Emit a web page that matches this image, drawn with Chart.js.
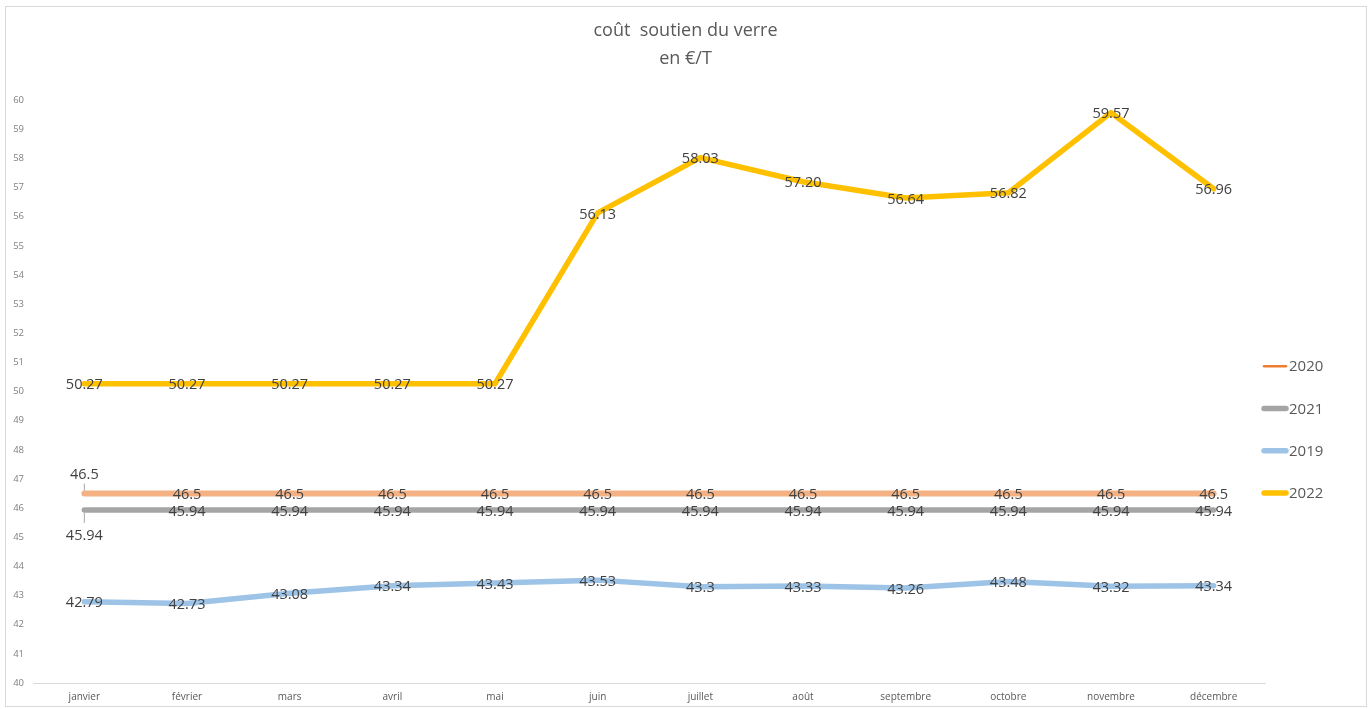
<!DOCTYPE html>
<html>
<head>
<meta charset="utf-8">
<title>coût soutien du verre</title>
<script src="https://cdn.jsdelivr.net/npm/chart.js@4.4.0/dist/chart.umd.min.js"></script>
<style>
  html, body { margin: 0; padding: 0; background: #fff; }
  #cadre { position: absolute; left: 5px; top: 6px; width: 1360px; height: 699px; border: 1px solid #d9d9d9; }
  #zone { position: absolute; left: 0; top: 0; width: 1372px; height: 709px; }
</style>
</head>
<body>
<div id="cadre"></div>
<div id="zone"><canvas id="graficoVerre"></canvas></div>
<script>
// Données
const mois = ['janvier', 'février', 'mars', 'avril', 'mai', 'juin', 'juillet', 'août', 'septembre', 'octobre', 'novembre', 'décembre'];
const valeurs2020 = [46.5, 46.5, 46.5, 46.5, 46.5, 46.5, 46.5, 46.5, 46.5, 46.5, 46.5, 46.5];
const valeurs2021 = [45.94, 45.94, 45.94, 45.94, 45.94, 45.94, 45.94, 45.94, 45.94, 45.94, 45.94, 45.94];
const valeurs2019 = [42.79, 42.73, 43.08, 43.34, 43.43, 43.53, 43.3, 43.33, 43.26, 43.48, 43.32, 43.34];
const valeurs2022 = [50.27, 50.27, 50.27, 50.27, 50.27, 56.13, 58.03, 57.20, 56.64, 56.82, 59.57, 56.96];
const titre = ['coût  soutien du verre', 'en €/T'];

Chart.defaults.font.family = '"Open Sans", sans-serif';

// Étiquettes de valeurs sur les points
const etiquettesPlugin = {
    id: 'etiquettes',
    afterDatasetsDraw(chart) {
        const ctx = chart.ctx;
        ctx.save();
        ctx.font = '14.5px "Open Sans"';
        ctx.textAlign = 'center';
        ctx.textBaseline = 'middle';
        chart.data.datasets.forEach((ds, i) => {
            const meta = chart.getDatasetMeta(i);
            meta.data.forEach((pt, j) => {
                let dy = 1.5;
                if (j === 0 && ds.label === '2020') {
                    dy = -19;
                    ctx.strokeStyle = '#a6a6a6';
                    ctx.lineWidth = 1;
                    ctx.beginPath();
                    ctx.moveTo(pt.x, pt.y - 10);
                    ctx.lineTo(pt.x, pt.y - 3);
                    ctx.stroke();
                }
                if (j === 0 && ds.label === '2021') {
                    dy = 26;
                    ctx.strokeStyle = '#a6a6a6';
                    ctx.lineWidth = 1;
                    ctx.beginPath();
                    ctx.moveTo(pt.x, pt.y + 3);
                    ctx.lineTo(pt.x, pt.y + 13);
                    ctx.stroke();
                }
                const v = ds.data[j];
                const texte = ds.decimales ? v.toFixed(ds.decimales) : String(v);
                ctx.fillStyle = '#404040';
                ctx.fillText(texte, pt.x, pt.y + dy);
            });
        });
        ctx.restore();
    }
};

// Légende à droite
const legendePlugin = {
    id: 'legende',
    afterDraw(chart) {
        const ctx = chart.ctx;
        const area = chart.chartArea;
        ctx.save();
        ctx.font = '15px "Open Sans"';
        ctx.textAlign = 'left';
        ctx.textBaseline = 'middle';
        ctx.lineCap = 'round';
        chart.data.datasets.forEach((ds, i) => {
            const y = area.top + 266 + i * 42.3;
            const x = area.right - 1;
            ctx.strokeStyle = ds.legendeCouleur;
            ctx.lineWidth = ds.legendeEpaisseur;
            ctx.beginPath();
            ctx.moveTo(x, y);
            ctx.lineTo(x + 22, y);
            ctx.stroke();
            ctx.fillStyle = '#595959';
            ctx.fillText(ds.label, x + 25, y + 1);
        });
        ctx.restore();
    }
};

function serie(label, data, couleur, epaisseur, legendeCouleur, legendeEpaisseur, decimales) {
    return {
        label: label,
        data: data,
        borderColor: couleur,
        backgroundColor: couleur,
        borderWidth: epaisseur,
        borderCapStyle: 'round',
        borderJoinStyle: 'round',
        pointRadius: 0,
        pointHoverRadius: 0,
        tension: 0,
        fill: false,
        legendeCouleur: legendeCouleur,
        legendeEpaisseur: legendeEpaisseur,
        decimales: decimales
    };
}

new Chart(document.getElementById('graficoVerre').getContext('2d'), {
    type: 'line',
    data: {
        labels: mois,
        datasets: [
            serie('2020', valeurs2020, '#f4b183', 6, '#ed7d31', 2.5, 0),
            serie('2021', valeurs2021, '#a5a5a5', 5.5, '#a5a5a5', 5.5, 0),
            serie('2019', valeurs2019, '#9dc3e6', 5.5, '#9dc3e6', 5.5, 0),
            serie('2022', valeurs2022, '#ffc000', 5.5, '#ffc000', 5.5, 2)
        ]
    },
    options: {
        responsive: true,
        maintainAspectRatio: false,
        animation: false,
        devicePixelRatio: 1,
        layout: { padding: { left: 5, right: 6, top: 6, bottom: 6 } },
        plugins: {
            legend: { display: false },
            tooltip: { enabled: false },
            title: {
                display: true,
                text: titre,
                color: '#595959',
                font: { size: 18, weight: 'normal', lineHeight: 1.56 },
                padding: { top: 11, bottom: 27 }
            }
        },
        scales: {
            x: {
                offset: true,
                grid: { display: false, drawTicks: false },
                border: { display: true, color: '#d9d9d9', width: 1 },
                ticks: { color: '#595959', font: { size: 10 }, padding: 8, maxRotation: 0, autoSkip: false },
                afterFit(s) { s.height = 20; }
            },
            y: {
                min: 40,
                max: 60,
                grid: { display: false, drawTicks: false },
                border: { display: false },
                ticks: { stepSize: 1, color: '#808080', font: { size: 9.5 }, padding: 9 },
                afterFit(s) { s.width = 28; }
            },
            // espace réservé à la légende, à droite
            droite: {
                position: 'right',
                grid: { display: false, drawTicks: false },
                border: { display: false },
                ticks: { display: false },
                afterFit(s) { s.width = 101; }
            }
        }
    },
    plugins: [etiquettesPlugin, legendePlugin]
});
</script>
</body>
</html>
